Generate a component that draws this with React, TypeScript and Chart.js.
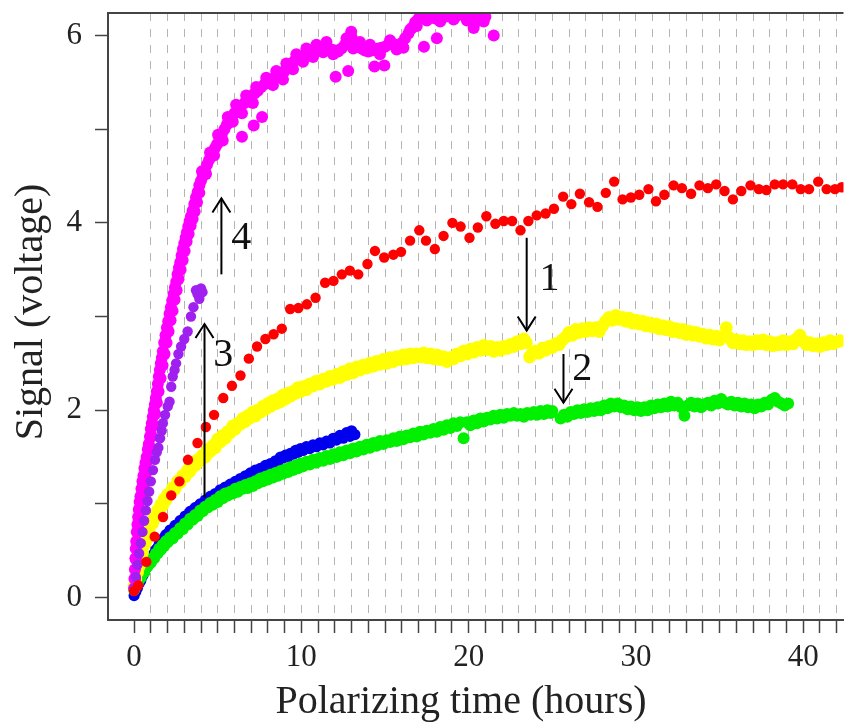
import React, { useEffect, useRef } from "react";
import { Chart, registerables } from "chart.js";

Chart.register(...registerables);

// ---------------- axis settings ----------------
const X_MIN = -1.56;
const X_MAX = 42.41;
const Y_MIN = -0.24;
const Y_MAX = 6.24;
const xTickValues = Array.from({ length: 43 }, (_, i) => i);
const xTickLabels = [0, 10, 20, 30, 40];
const yTickValues = [0, 1, 2, 3, 4, 5, 6];
const yTickLabels = [0, 2, 4, 6];
const xTitle = "Polarizing time (hours)";
const yTitle = "Signal (voltage)";

// ---------------- series ----------------
const redPts: [number, number][] = [
  [0.0, 0.07], [0.25, 0.13], [0.73, 0.38], [1.23, 0.65], [1.73, 0.86], [2.22, 1.09], [2.71, 1.24],
  [3.22, 1.47], [3.79, 1.65], [4.29, 1.82], [4.78, 1.95], [5.33, 2.13], [5.85, 2.26], [6.36, 2.37],
  [6.86, 2.55], [7.35, 2.68], [7.85, 2.76], [8.34, 2.81], [8.83, 2.87], [9.33, 3.08], [9.82, 3.09],
  [10.33, 3.13], [10.85, 3.2], [11.42, 3.36], [11.92, 3.38], [12.42, 3.45], [12.9, 3.49], [13.4, 3.45],
  [13.95, 3.56], [14.4, 3.7], [14.95, 3.63], [15.5, 3.66], [15.96, 3.69], [16.5, 3.81], [17.05, 3.92],
  [17.45, 3.81], [17.98, 3.72], [18.5, 3.86], [19.03, 4.0], [19.52, 3.96], [20.05, 3.84], [20.55, 3.95],
  [21.06, 4.07], [21.6, 3.99], [22.1, 4.02], [22.6, 4.02], [23.1, 3.92], [23.57, 4.02], [24.07, 4.08],
  [24.6, 4.1], [25.1, 4.15], [25.65, 4.28], [26.14, 4.2], [26.65, 4.31], [27.2, 4.22], [27.7, 4.17],
  [28.2, 4.32], [28.7, 4.44], [29.2, 4.25], [29.7, 4.27], [30.2, 4.3], [30.75, 4.36], [31.2, 4.23],
  [31.7, 4.3], [32.25, 4.4], [32.75, 4.37], [33.3, 4.31], [33.8, 4.4], [34.3, 4.37], [34.8, 4.41],
  [35.3, 4.34], [35.8, 4.25], [36.3, 4.34], [36.85, 4.4], [37.35, 4.36], [37.8, 4.35], [38.3, 4.41],
  [38.8, 4.41], [39.35, 4.41], [39.85, 4.36], [40.35, 4.36], [40.9, 4.44], [41.4, 4.36], [41.9, 4.36],
  [42.3, 4.38],
];

const purplePts: [number, number][] = [
  [0.0, 0.1], [0.1, 0.22], [0.2, 0.35], [0.3, 0.47], [0.4, 0.58], [0.5, 0.7], [0.6, 0.82], [0.7, 0.93],
  [0.8, 1.03], [0.9, 1.13], [1.0, 1.24], [1.13, 1.36], [1.25, 1.47], [1.35, 1.55], [1.45, 1.6],
  [1.55, 1.7], [1.65, 1.78], [1.72, 1.86], [1.85, 1.95], [2.01, 2.04], [2.12, 2.09], [2.22, 2.25],
  [2.31, 2.36], [2.42, 2.43], [2.51, 2.5], [2.65, 2.6], [2.81, 2.68], [3.0, 2.76], [3.2, 2.84],
  [3.4, 3.0], [3.55, 3.1], [3.7, 3.28], [3.79, 3.24], [3.9, 3.19], [4.0, 3.3], [4.09, 3.26],
];

const magentaPts: [number, number][] = [
  [0.0, 0.1], [0.02, 0.2], [0.05, 0.3], [0.08, 0.42], [0.1, 0.52], [0.13, 0.6], [0.16, 0.7], [0.2, 0.78],
  [0.24, 0.86], [0.28, 0.94], [0.33, 1.02], [0.38, 1.08], [0.44, 1.16], [0.5, 1.24], [0.56, 1.3],
  [0.62, 1.38], [0.68, 1.44], [0.75, 1.5], [0.82, 1.58], [0.88, 1.64], [0.95, 1.72], [1.0, 1.8],
  [1.06, 1.86], [1.12, 1.93], [1.18, 2.0], [1.24, 2.06], [1.3, 2.13], [1.36, 2.2], [1.42, 2.28],
  [1.48, 2.36], [1.54, 2.43], [1.6, 2.5], [1.66, 2.56], [1.72, 2.63], [1.8, 2.72], [1.88, 2.8],
  [1.96, 2.88], [2.04, 2.95], [2.12, 3.03], [2.2, 3.1], [2.28, 3.17], [2.36, 3.24], [2.44, 3.31],
  [2.52, 3.37], [2.6, 3.45], [2.68, 3.52], [2.76, 3.58], [2.84, 3.65], [2.92, 3.72], [3.0, 3.78],
  [3.08, 3.84], [3.16, 3.9], [3.24, 3.96], [3.32, 4.02], [3.4, 4.07], [3.5, 4.13], [3.6, 4.2],
  [3.7, 4.27], [3.8, 4.33], [3.9, 4.4], [4.0, 4.45], [4.12, 4.5], [4.24, 4.56], [4.36, 4.62],
  [4.48, 4.67], [4.6, 4.72], [4.72, 4.76], [4.84, 4.8], [4.96, 4.84], [5.1, 4.9], [5.25, 4.95],
  [5.4, 5.0], [5.55, 5.05], [5.7, 5.1], [5.85, 5.13], [6.0, 5.17], [6.2, 5.22], [6.4, 5.25],
  [6.6, 5.28], [6.8, 5.32], [7.0, 5.35], [7.2, 5.38], [7.4, 5.41], [7.6, 5.45], [7.8, 5.48],
  [8.0, 5.5], [8.2, 5.53], [8.4, 5.55], [8.6, 5.58], [8.8, 5.6], [9.0, 5.62], [9.2, 5.65], [9.4, 5.7],
  [9.6, 5.73], [9.8, 5.75], [10.0, 5.77], [10.2, 5.79], [10.4, 5.8], [10.6, 5.82], [10.8, 5.84],
  [11.0, 5.85], [11.2, 5.87], [11.4, 5.88], [11.6, 5.86], [11.8, 5.85], [12.0, 5.84], [12.2, 5.83],
  [12.4, 5.86], [12.6, 5.9], [12.8, 5.94], [13.0, 5.98], [13.2, 5.93], [13.4, 5.88], [13.6, 5.86],
  [13.8, 5.84], [14.0, 5.83], [14.2, 5.84], [14.4, 5.85], [14.6, 5.86], [14.8, 5.87], [15.0, 5.88],
  [15.2, 5.9], [15.4, 5.92], [15.6, 5.9], [15.8, 5.89], [16.0, 5.92], [16.2, 5.97], [16.4, 6.02],
  [16.6, 6.08], [16.8, 6.14], [17.0, 6.18], [17.2, 6.2], [17.4, 6.22], [17.6, 6.24], [17.8, 6.2],
  [18.0, 6.18], [18.2, 6.22], [18.4, 6.26], [18.6, 6.2], [18.8, 6.22], [19.0, 6.25], [19.2, 6.2],
  [19.4, 6.22], [19.6, 6.26], [19.8, 6.2], [20.0, 6.24], [20.2, 6.18], [20.4, 6.14], [20.6, 6.22],
  [20.8, 6.24], [21.0, 6.2],
  // second layer of the band and scattered points
  [0.06, 0.2], [0.12, 0.4], [0.18, 0.58], [0.26, 0.74], [0.36, 0.92], [0.46, 1.06], [0.58, 1.2],
  [0.7, 1.32], [0.82, 1.46], [0.94, 1.58], [1.06, 1.72], [1.16, 1.84], [1.26, 1.96], [1.36, 2.08],
  [1.46, 2.2], [1.58, 2.34], [1.7, 2.48], [1.82, 2.6], [1.94, 2.72], [2.06, 2.84], [2.18, 2.96],
  [2.3, 3.06], [2.42, 3.18], [2.54, 3.28], [2.66, 3.4], [2.78, 3.5], [2.9, 3.6], [3.02, 3.7],
  [3.14, 3.8], [3.26, 3.88], [3.38, 3.97], [3.5, 4.04], [3.62, 4.12], [3.76, 4.22], [3.9, 4.32],
  [4.06, 4.55], [4.3, 4.52], [4.54, 4.75], [4.78, 4.72], [5.02, 4.94], [5.3, 4.88], [5.6, 5.13],
  [5.9, 5.08], [6.1, 5.26], [6.45, 5.17], [6.7, 5.36], [7.1, 5.28], [7.3, 5.45], [7.65, 5.13],
  [7.15, 5.04], [6.45, 4.92], [7.9, 5.55], [8.3, 5.47], [8.5, 5.62], [8.9, 5.53], [9.1, 5.7],
  [9.5, 5.64], [9.7, 5.8], [10.1, 5.72], [10.3, 5.86], [10.7, 5.77], [10.9, 5.9], [11.3, 5.82],
  [11.5, 5.93], [11.9, 5.8], [12.05, 5.56], [12.8, 5.62], [12.98, 6.04], [12.7, 5.97], [13.1, 5.86],
  [13.5, 5.93], [14.37, 5.67], [14.96, 5.68], [14.1, 5.9], [14.7, 5.8], [15.3, 5.95], [15.7, 5.85],
  [16.1, 5.87], [16.5, 6.06], [16.9, 6.1], [17.33, 5.88], [18.1, 5.97], [17.5, 6.16], [18.3, 6.15],
  [19.1, 6.17], [19.9, 6.16], [20.3, 6.08], [21.5, 6.0], [20.9, 6.15],
];

const yellowPts: [number, number][] = [
  [0.0, 0.12], [0.1, 0.2], [0.2, 0.27], [0.3, 0.33], [0.4, 0.42], [0.5, 0.48], [0.6, 0.56], [0.7, 0.6],
  [0.8, 0.67], [0.9, 0.7], [1.0, 0.78], [1.1, 0.79], [1.2, 0.85], [1.3, 0.86], [1.4, 0.93], [1.5, 0.94],
  [1.6, 0.99], [1.7, 0.98], [1.8, 1.05], [1.9, 1.04], [2.0, 1.1], [2.15, 1.1], [2.3, 1.17], [2.45, 1.16],
  [2.6, 1.24], [2.75, 1.23], [2.9, 1.3], [3.05, 1.29], [3.2, 1.36], [3.35, 1.35], [3.5, 1.42],
  [3.65, 1.41], [3.8, 1.47], [3.95, 1.46], [4.1, 1.52], [4.25, 1.5], [4.4, 1.58], [4.55, 1.56],
  [4.7, 1.62], [4.85, 1.6], [5.0, 1.69], [5.15, 1.66], [5.3, 1.73], [5.45, 1.7], [5.6, 1.77],
  [5.75, 1.76], [5.9, 1.83], [6.05, 1.8], [6.2, 1.86], [6.35, 1.85], [6.5, 1.91], [6.65, 1.88],
  [6.8, 1.94], [6.95, 1.92], [7.1, 1.98], [7.25, 1.94], [7.4, 2.0], [7.55, 1.98], [7.7, 2.04],
  [7.85, 2.01], [8.0, 2.07], [8.15, 2.04], [8.3, 2.1], [8.45, 2.07], [8.6, 2.12], [8.75, 2.09],
  [8.9, 2.16], [9.05, 2.12], [9.2, 2.18], [9.35, 2.15], [9.5, 2.2], [9.65, 2.18], [9.8, 2.24],
  [9.95, 2.2], [10.1, 2.25], [10.3, 2.22], [10.5, 2.28], [10.7, 2.26], [10.9, 2.31], [11.1, 2.28],
  [11.3, 2.33], [11.5, 2.31], [11.7, 2.36], [11.9, 2.33], [12.1, 2.38], [12.3, 2.35], [12.5, 2.41],
  [12.7, 2.38], [12.9, 2.44], [13.1, 2.4], [13.3, 2.46], [13.5, 2.43], [13.7, 2.48], [13.9, 2.45],
  [14.1, 2.5], [14.3, 2.47], [14.5, 2.52], [14.7, 2.49], [14.9, 2.54], [15.1, 2.5], [15.3, 2.56],
  [15.5, 2.52], [15.7, 2.57], [15.9, 2.54], [16.1, 2.59], [16.3, 2.55], [16.5, 2.6], [16.7, 2.56],
  [16.9, 2.6], [17.1, 2.57], [17.3, 2.61], [17.5, 2.56], [17.7, 2.6], [17.9, 2.55], [18.1, 2.59],
  [18.3, 2.54], [18.5, 2.57], [18.7, 2.52], [18.9, 2.56], [19.1, 2.55], [19.3, 2.6], [19.5, 2.58],
  [19.7, 2.63], [19.9, 2.6], [20.1, 2.65], [20.3, 2.62], [20.5, 2.67], [20.7, 2.64], [20.9, 2.69],
  [21.1, 2.65], [21.3, 2.68], [21.5, 2.63], [21.7, 2.67], [21.9, 2.64], [22.1, 2.68], [22.3, 2.66],
  [22.5, 2.7], [22.7, 2.68], [22.9, 2.73], [23.1, 2.71], [23.3, 2.76], [23.45, 2.72], [23.65, 2.57],
  [23.8, 2.6], [24.0, 2.63], [24.2, 2.61], [24.4, 2.66], [24.6, 2.64], [24.8, 2.68], [25.0, 2.67],
  [25.2, 2.71], [25.4, 2.7], [25.6, 2.75], [25.8, 2.78], [26.0, 2.83], [26.2, 2.8], [26.4, 2.86],
  [26.6, 2.83], [26.8, 2.87], [27.0, 2.84], [27.2, 2.88], [27.4, 2.85], [27.6, 2.88], [27.8, 2.84],
  [28.0, 2.9], [28.2, 2.95], [28.4, 2.99], [28.6, 2.96], [28.8, 3.01], [29.0, 2.97], [29.2, 2.99],
  [29.4, 2.95], [29.6, 2.98], [29.8, 2.93], [30.0, 2.96], [30.2, 2.92], [30.4, 2.95], [30.6, 2.9],
  [30.8, 2.93], [31.0, 2.89], [31.2, 2.92], [31.4, 2.87], [31.6, 2.9], [31.8, 2.86], [32.0, 2.89],
  [32.2, 2.84], [32.4, 2.87], [32.6, 2.83], [32.8, 2.86], [33.0, 2.81], [33.2, 2.84], [33.4, 2.8],
  [33.6, 2.83], [33.8, 2.79], [34.0, 2.81], [34.2, 2.77], [34.4, 2.8], [34.6, 2.76], [34.8, 2.79],
  [35.0, 2.75], [35.2, 2.78], [35.4, 2.88], [35.6, 2.77], [35.8, 2.72], [36.0, 2.75], [36.2, 2.71],
  [36.4, 2.74], [36.6, 2.7], [36.8, 2.73], [37.0, 2.7], [37.2, 2.74], [37.4, 2.71], [37.6, 2.75],
  [37.8, 2.7], [38.0, 2.73], [38.2, 2.69], [38.4, 2.72], [38.6, 2.7], [38.8, 2.74], [39.0, 2.7],
  [39.2, 2.73], [39.4, 2.71], [39.6, 2.76], [39.8, 2.8], [40.0, 2.74], [40.2, 2.7], [40.4, 2.72],
  [40.6, 2.69], [40.8, 2.71], [41.0, 2.68], [41.2, 2.72], [41.4, 2.7], [41.6, 2.74], [41.8, 2.71],
  [42.0, 2.73], [42.2, 2.74],
];

const greenPts: [number, number][] = [
  [0.0, 0.08], [0.1, 0.12], [0.2, 0.14], [0.3, 0.19], [0.4, 0.21], [0.5, 0.26], [0.6, 0.27], [0.7, 0.32],
  [0.8, 0.33], [0.9, 0.37], [1.0, 0.37], [1.1, 0.42], [1.2, 0.42], [1.3, 0.47], [1.4, 0.47], [1.5, 0.52],
  [1.6, 0.51], [1.7, 0.56], [1.8, 0.55], [1.9, 0.6], [2.0, 0.59], [2.15, 0.64], [2.3, 0.63], [2.45, 0.69],
  [2.6, 0.68], [2.75, 0.74], [2.9, 0.73], [3.05, 0.79], [3.2, 0.78], [3.35, 0.84], [3.5, 0.83],
  [3.65, 0.88], [3.8, 0.87], [3.95, 0.93], [4.1, 0.92], [4.25, 0.97], [4.4, 0.96], [4.55, 1.01],
  [4.7, 0.99], [4.85, 1.04], [5.0, 1.02], [5.15, 1.08], [5.3, 1.06], [5.45, 1.11], [5.6, 1.09],
  [5.75, 1.13], [5.9, 1.11], [6.05, 1.16], [6.2, 1.13], [6.35, 1.18], [6.5, 1.16], [6.65, 1.2],
  [6.8, 1.17], [6.95, 1.22], [7.1, 1.19], [7.25, 1.24], [7.4, 1.22], [7.55, 1.27], [7.7, 1.24],
  [7.85, 1.29], [8.0, 1.26], [8.15, 1.31], [8.3, 1.28], [8.45, 1.33], [8.6, 1.3], [8.75, 1.35],
  [8.9, 1.32], [9.05, 1.37], [9.2, 1.34], [9.35, 1.39], [9.5, 1.36], [9.65, 1.41], [9.8, 1.38],
  [9.95, 1.43], [10.1, 1.4], [10.3, 1.45], [10.5, 1.42], [10.7, 1.47], [10.9, 1.44], [11.1, 1.49],
  [11.3, 1.46], [11.5, 1.51], [11.7, 1.48], [11.9, 1.53], [12.1, 1.5], [12.3, 1.55], [12.5, 1.52],
  [12.7, 1.57], [12.9, 1.54], [13.1, 1.59], [13.3, 1.56], [13.5, 1.61], [13.7, 1.58], [13.9, 1.63],
  [14.1, 1.6], [14.3, 1.65], [14.5, 1.62], [14.7, 1.67], [14.9, 1.64], [15.1, 1.68], [15.3, 1.66],
  [15.5, 1.7], [15.7, 1.67], [15.9, 1.72], [16.1, 1.69], [16.3, 1.73], [16.5, 1.71], [16.7, 1.75],
  [16.9, 1.72], [17.1, 1.77], [17.3, 1.74], [17.5, 1.78], [17.7, 1.76], [17.9, 1.8], [18.1, 1.77],
  [18.3, 1.82], [18.5, 1.79], [18.7, 1.84], [18.9, 1.81], [19.1, 1.86], [19.3, 1.83], [19.5, 1.87],
  [19.7, 1.7], [19.9, 1.87], [20.1, 1.84], [20.3, 1.89], [20.5, 1.86], [20.7, 1.91], [20.9, 1.88],
  [21.1, 1.92], [21.3, 1.9], [21.5, 1.94], [21.7, 1.91], [21.9, 1.95], [22.1, 1.92], [22.3, 1.96],
  [22.5, 1.94], [22.7, 1.97], [22.9, 1.94], [23.1, 1.96], [23.3, 1.93], [23.5, 1.97], [23.7, 1.95],
  [23.9, 1.98], [24.1, 1.95], [24.3, 1.99], [24.5, 1.96], [24.7, 2.0], [24.9, 1.97], [25.0, 1.99],
  [25.5, 1.91], [25.7, 1.95], [25.9, 1.93], [26.1, 1.98], [26.3, 1.96], [26.5, 2.0], [26.7, 1.97],
  [26.9, 2.01], [27.1, 1.98], [27.3, 2.02], [27.5, 1.99], [27.7, 2.03], [27.9, 2.0], [28.1, 2.05],
  [28.3, 2.02], [28.5, 2.07], [28.7, 2.04], [28.9, 2.07], [29.1, 2.03], [29.3, 2.05], [29.5, 2.01],
  [29.7, 2.04], [29.9, 2.0], [30.1, 2.03], [30.3, 1.99], [30.5, 2.03], [30.7, 2.0], [30.9, 2.05],
  [31.1, 2.02], [31.3, 2.06], [31.5, 2.03], [31.7, 2.07], [31.9, 2.04], [32.1, 2.09], [32.3, 2.05],
  [32.5, 2.08], [32.7, 2.03], [32.9, 1.94], [33.1, 2.05], [33.3, 2.08], [33.5, 2.04], [33.7, 2.07],
  [33.9, 2.03], [34.1, 2.06], [34.3, 2.08], [34.5, 2.05], [34.7, 2.1], [34.9, 2.07], [35.1, 2.12],
  [35.3, 2.08], [35.5, 2.06], [35.7, 2.09], [35.9, 2.05], [36.1, 2.08], [36.3, 2.04], [36.5, 2.07],
  [36.7, 2.03], [36.9, 2.06], [37.1, 2.02], [37.3, 2.06], [37.5, 2.04], [37.7, 2.08], [37.9, 2.06],
  [38.1, 2.11], [38.3, 2.13], [38.5, 2.09], [38.7, 2.07], [38.9, 2.05], [39.1, 2.07],
];

const bluePts: [number, number][] = [
  [0.0, 0.02], [0.1, 0.06], [0.2, 0.1], [0.3, 0.15], [0.4, 0.18], [0.5, 0.23], [0.6, 0.26], [0.7, 0.31],
  [0.8, 0.34], [0.9, 0.38], [1.0, 0.41], [1.1, 0.45], [1.2, 0.47], [1.3, 0.51], [1.4, 0.53], [1.5, 0.57],
  [1.6, 0.59], [1.7, 0.62], [1.8, 0.64], [1.9, 0.67], [2.0, 0.68], [2.15, 0.72], [2.3, 0.73], [2.45, 0.77],
  [2.6, 0.78], [2.75, 0.82], [2.9, 0.83], [3.05, 0.87], [3.2, 0.88], [3.35, 0.92], [3.5, 0.93],
  [3.65, 0.96], [3.8, 0.97], [3.95, 1.0], [4.1, 1.0], [4.25, 1.04], [4.4, 1.04], [4.55, 1.08],
  [4.7, 1.08], [4.85, 1.11], [5.0, 1.11], [5.15, 1.15], [5.3, 1.14], [5.45, 1.18], [5.6, 1.17],
  [5.75, 1.21], [5.9, 1.2], [6.05, 1.24], [6.2, 1.23], [6.35, 1.27], [6.5, 1.26], [6.65, 1.3],
  [6.8, 1.29], [6.95, 1.33], [7.1, 1.32], [7.25, 1.36], [7.4, 1.35], [7.55, 1.38], [7.7, 1.37],
  [7.85, 1.41], [8.0, 1.4], [8.15, 1.43], [8.3, 1.42], [8.45, 1.46], [8.6, 1.45], [8.75, 1.5],
  [8.9, 1.49], [9.05, 1.52], [9.2, 1.5], [9.35, 1.54], [9.5, 1.53], [9.65, 1.57], [9.8, 1.55],
  [9.95, 1.59], [10.1, 1.57], [10.3, 1.61], [10.5, 1.59], [10.7, 1.63], [10.9, 1.61], [11.1, 1.65],
  [11.3, 1.63], [11.5, 1.67], [11.7, 1.65], [11.9, 1.7], [12.1, 1.68], [12.3, 1.73], [12.5, 1.7],
  [12.7, 1.76], [12.9, 1.72], [13.0, 1.78], [13.2, 1.74],
];

// ---------------- annotations (data coordinates) ----------------
const arrowX = [5.22, 4.21, 23.47, 25.67];
const arrowFrom = [3.45, 1.07, 3.84, 2.6];
const arrowTo = [4.26, 2.92, 2.85, 2.08];
const arrowLabelText = ["4", "3", "1", "2"];
const arrowLabelX = [6.4, 5.33, 24.84, 26.79];
const arrowLabelY = [3.83, 2.58, 3.4, 2.43];

const FONT = "'Liberation Serif', 'Times New Roman', serif";
const AXIS_COLOR = "#444";

const toXY = (pts: [number, number][]) => pts.map(([x, y]) => ({ x, y }));

const annotPlugin = {
  id: "annot",
  afterDatasetsDraw(chart: any) {
    const { ctx, chartArea } = chart;
    const xs = chart.scales.x;
    const ys = chart.scales.y;
    ctx.save();
    // top frame line
    ctx.strokeStyle = AXIS_COLOR;
    ctx.lineWidth = 2;
    ctx.beginPath();
    ctx.moveTo(chartArea.left - 1, chartArea.top);
    ctx.lineTo(chartArea.right, chartArea.top);
    ctx.stroke();

    // arrows
    ctx.strokeStyle = "#000";
    ctx.lineWidth = 2;
    for (let i = 0; i < arrowX.length; i++) {
      const px = xs.getPixelForValue(arrowX[i]);
      const p0 = ys.getPixelForValue(arrowFrom[i]);
      const p1 = ys.getPixelForValue(arrowTo[i]);
      const dir = Math.sign(p1 - p0);
      ctx.beginPath();
      ctx.moveTo(px, p0);
      ctx.lineTo(px, p1);
      ctx.stroke();
      ctx.beginPath();
      ctx.moveTo(px - 9, p1 - dir * 14);
      ctx.lineTo(px, p1);
      ctx.lineTo(px + 9, p1 - dir * 14);
      ctx.stroke();
    }
    ctx.fillStyle = "#111";
    ctx.font = `40px ${FONT}`;
    ctx.textAlign = "center";
    ctx.textBaseline = "middle";
    for (let i = 0; i < arrowLabelText.length; i++) {
      ctx.fillText(
        arrowLabelText[i],
        xs.getPixelForValue(arrowLabelX[i]),
        ys.getPixelForValue(arrowLabelY[i])
      );
    }

    // axis titles
    ctx.fillStyle = "#222";
    ctx.textBaseline = "alphabetic";
    ctx.textAlign = "center";
    ctx.fillText(xTitle, 461, 713);
    ctx.save();
    ctx.translate(42, 312);
    ctx.rotate(-Math.PI / 2);
    ctx.fillText(yTitle, 0, 0);
    ctx.restore();
    ctx.restore();
  },
};

export default function App() {
  const canvasRef = useRef<HTMLCanvasElement | null>(null);

  useEffect(() => {
    document.body.style.margin = "0";
    const canvas = canvasRef.current;
    if (!canvas) return;

    const mk = (label: string, pts: [number, number][], color: string, r: number) => ({
      label,
      data: toXY(pts),
      backgroundColor: color,
      borderColor: color,
      borderWidth: 0,
      pointRadius: r,
      pointHoverRadius: r,
      showLine: false,
      clip: 0,
    });

    const zeroPad = (scale: any) => {
      scale.paddingTop = 0;
      scale.paddingBottom = 0;
      scale.paddingLeft = 0;
      scale.paddingRight = 0;
    };

    const chart = new Chart(canvas, {
      type: "scatter",
      data: {
        datasets: [
          mk("red", redPts, "#FF0000", 5.2),
          mk("purple", purplePts, "#A020F0", 5.2),
          mk("magenta", magentaPts, "#FF00FF", 6),
          mk("yellow", yellowPts, "#FFFF00", 6.5),
          mk("green", greenPts, "#00F000", 6),
          mk("blue", bluePts, "#0000EE", 5.6),
        ],
      },
      options: {
        responsive: false,
        animation: false,
        events: [],
        layout: { padding: { top: 13, left: 0, right: 0, bottom: 0 } },
        plugins: {
          legend: { display: false },
          tooltip: { enabled: false },
          title: { display: false },
        },
        scales: {
          x: {
            type: "linear",
            position: "bottom",
            min: X_MIN,
            max: X_MAX,
            afterBuildTicks: (scale: any) => {
              scale.ticks = xTickValues.map((v) => ({ value: v }));
            },
            afterFit: (scale: any) => {
              scale.height = 103;
              zeroPad(scale);
            },
            ticks: {
              autoSkip: false,
              maxRotation: 0,
              minRotation: 0,
              padding: 6,
              color: "#222",
              font: { family: FONT, size: 31 },
              callback: (v: any) => (xTickLabels.includes(Number(v)) ? String(v) : ""),
            },
            grid: {
              display: true,
              drawOnChartArea: true,
              drawTicks: true,
              tickLength: 13,
              tickColor: AXIS_COLOR,
              tickWidth: 1.5,
              lineWidth: 1,
              color: (ctx: any) =>
                ctx.tick && ctx.tick.value === 0 ? "rgba(0,0,0,0)" : "#b4b4b4",
            },
            border: { display: true, color: AXIS_COLOR, width: 2, dash: [8, 8] },
          },
          y: {
            type: "linear",
            position: "left",
            min: Y_MIN,
            max: Y_MAX,
            afterBuildTicks: (scale: any) => {
              scale.ticks = yTickValues.map((v) => ({ value: v }));
            },
            afterFit: (scale: any) => {
              scale.width = 108;
              zeroPad(scale);
            },
            ticks: {
              autoSkip: false,
              padding: 13,
              color: "#222",
              font: { family: FONT, size: 31 },
              callback: (v: any) => (yTickLabels.includes(Number(v)) ? String(v) : ""),
            },
            grid: {
              display: true,
              drawOnChartArea: false,
              drawTicks: true,
              tickLength: 13,
              tickColor: AXIS_COLOR,
              tickWidth: 1.5,
            },
            border: { display: true, color: AXIS_COLOR, width: 2 },
          },
        },
      },
      plugins: [annotPlugin],
    } as any);

    return () => chart.destroy();
  }, []);

  return (
    <div style={{ width: 850, height: 723, position: "relative", background: "#fff" }}>
      <canvas ref={canvasRef} width={850} height={723} style={{ display: "block" }} />
    </div>
  );
}
